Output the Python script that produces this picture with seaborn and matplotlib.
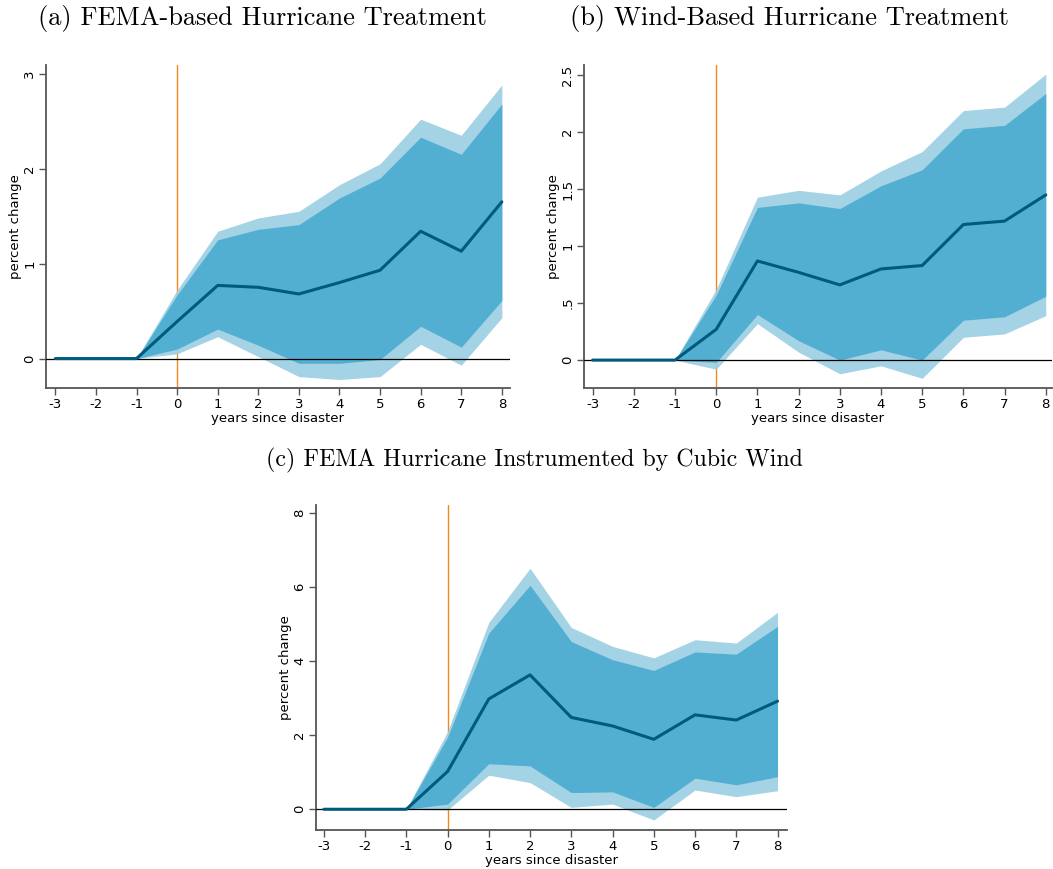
import matplotlib
matplotlib.use("Agg")
import matplotlib.pyplot as plt
import seaborn as sns
import pandas as pd

sns.set_style("ticks")
plt.rcParams["font.family"] = ["DejaVu Sans"]
plt.rcParams["text.color"] = "black"
plt.rcParams["axes.labelcolor"] = "black"

years = [-3, -2, -1, 0, 1, 2, 3, 4, 5, 6, 7, 8]

# (a) FEMA-based hurricane treatment
est_a = [0, 0, 0, 0.39, 0.77, 0.75, 0.68, 0.80, 0.93, 1.34, 1.13, 1.65]
lo90_a = [0, 0, 0, 0.10, 0.31, 0.14, -0.05, -0.05, -0.01, 0.34, 0.12, 0.61]
hi90_a = [0, 0, 0, 0.67, 1.25, 1.36, 1.41, 1.69, 1.90, 2.33, 2.15, 2.68]
lo95_a = [0, 0, 0, 0.05, 0.23, 0.02, -0.19, -0.22, -0.19, 0.15, -0.07, 0.43]
hi95_a = [0, 0, 0, 0.72, 1.34, 1.48, 1.55, 1.83, 2.05, 2.52, 2.35, 2.88]

# (b) Wind-based hurricane treatment
est_b = [0, 0, 0, 0.27, 0.87, 0.77, 0.66, 0.80, 0.83, 1.19, 1.22, 1.45]
lo90_b = [0, 0, 0, -0.02, 0.40, 0.17, 0.00, 0.09, 0.00, 0.35, 0.38, 0.56]
hi90_b = [0, 0, 0, 0.57, 1.34, 1.38, 1.33, 1.53, 1.67, 2.03, 2.06, 2.34]
lo95_b = [0, 0, 0, -0.08, 0.32, 0.07, -0.12, -0.05, -0.16, 0.20, 0.23, 0.39]
hi95_b = [0, 0, 0, 0.62, 1.43, 1.49, 1.45, 1.66, 1.83, 2.19, 2.22, 2.51]

# (c) FEMA hurricane instrumented by cubic wind
est_c = [0, 0, 0, 1.02, 2.98, 3.63, 2.48, 2.25, 1.89, 2.55, 2.41, 2.92]
lo90_c = [0, 0, 0, 0.14, 1.23, 1.17, 0.45, 0.47, 0.05, 0.84, 0.66, 0.88]
hi90_c = [0, 0, 0, 1.95, 4.76, 6.05, 4.53, 4.04, 3.75, 4.25, 4.19, 4.94]
lo95_c = [0, 0, 0, -0.02, 0.92, 0.72, 0.05, 0.14, -0.29, 0.52, 0.34, 0.50]
hi95_c = [0, 0, 0, 2.10, 5.05, 6.51, 4.91, 4.40, 4.09, 4.58, 4.49, 5.32]

titles = ["(a) FEMA-based Hurricane Treatment",
          "(b) Wind-Based Hurricane Treatment",
          "(c) FEMA Hurricane Instrumented by Cubic Wind"]
yticks_a = [0, 1, 2, 3]
yticklabels_a = ["0", "1", "2", "3"]
yticks_b = [0, 0.5, 1, 1.5, 2, 2.5]
yticklabels_b = ["0", ".5", "1", "1.5", "2", "2.5"]
yticks_c = [0, 2, 4, 6, 8]
yticklabels_c = ["0", "2", "4", "6", "8"]

LINE = "#005A7C"
INNER = "#4CACD0"
OUTER = "#9CD0E3"
EVENT = "#EE8A1C"
SPINE = "#555555"

fig = plt.figure(figsize=(10.53, 8.69), dpi=100)

panels = [
    dict(rect=[0.0437, 0.5535, 0.4406, 0.3717], est=est_a, lo90=lo90_a, hi90=hi90_a,
         lo95=lo95_a, hi95=hi95_a, xlim=(-3.23, 8.2), ylim=(-0.31, 3.09),
         yt=yticks_a, ytl=yticklabels_a),
    dict(rect=[0.5546, 0.5535, 0.4444, 0.3717], est=est_b, lo90=lo90_b, hi90=hi90_b,
         lo95=lo95_b, hi95=hi95_b, xlim=(-3.21, 8.15), ylim=(-0.245, 2.59),
         yt=yticks_b, ytl=yticklabels_b),
    dict(rect=[0.3001, 0.0449, 0.4473, 0.374], est=est_c, lo90=lo90_c, hi90=hi90_c,
         lo95=lo95_c, hi95=hi95_c, xlim=(-3.19, 8.23), ylim=(-0.56, 8.22),
         yt=yticks_c, ytl=yticklabels_c),
]

for p in panels:
    ax = fig.add_axes(p["rect"])
    df = pd.DataFrame({"year": years, "est": p["est"]})
    ax.axvline(0, color=EVENT, lw=1.0, zorder=1)
    ax.fill_between(years, p["lo95"], p["hi95"], color=OUTER, alpha=0.92, lw=0, zorder=2)
    ax.fill_between(years, p["lo90"], p["hi90"], color=INNER, alpha=0.92, lw=0, zorder=3)
    ax.axhline(0, color="black", lw=0.9, zorder=4)
    sns.lineplot(data=df, x="year", y="est", ax=ax, color=LINE, lw=2.2, zorder=5)
    ax.set_xlim(*p["xlim"])
    ax.set_ylim(*p["ylim"])
    ax.set_xticks(years)
    ax.set_xticklabels([str(y) for y in years])
    ax.set_yticks(p["yt"])
    ax.set_yticklabels(p["ytl"], rotation=90, va="center")
    ax.set_xlabel("years since disaster", fontsize=9.5, labelpad=1)
    ax.set_ylabel("percent change", fontsize=9.5, labelpad=1)
    ax.tick_params(axis="both", labelsize=9.5, length=5, width=1.0, color=SPINE,
                   labelcolor="black", pad=2)
    sns.despine(ax=ax)
    for s in ("left", "bottom"):
        ax.spines[s].set_color(SPINE)
        ax.spines[s].set_linewidth(1.3)

fig.text(0.249, 0.979, titles[0], fontfamily="cmr10", fontsize=19, ha="center", va="center")
fig.text(0.75, 0.979, titles[1], fontfamily="cmr10", fontsize=19, ha="center", va="center")
fig.text(0.5075, 0.470, titles[2], fontfamily="cmr10", fontsize=17.2, ha="center", va="center")

fig.savefig("out.png", dpi=100)
